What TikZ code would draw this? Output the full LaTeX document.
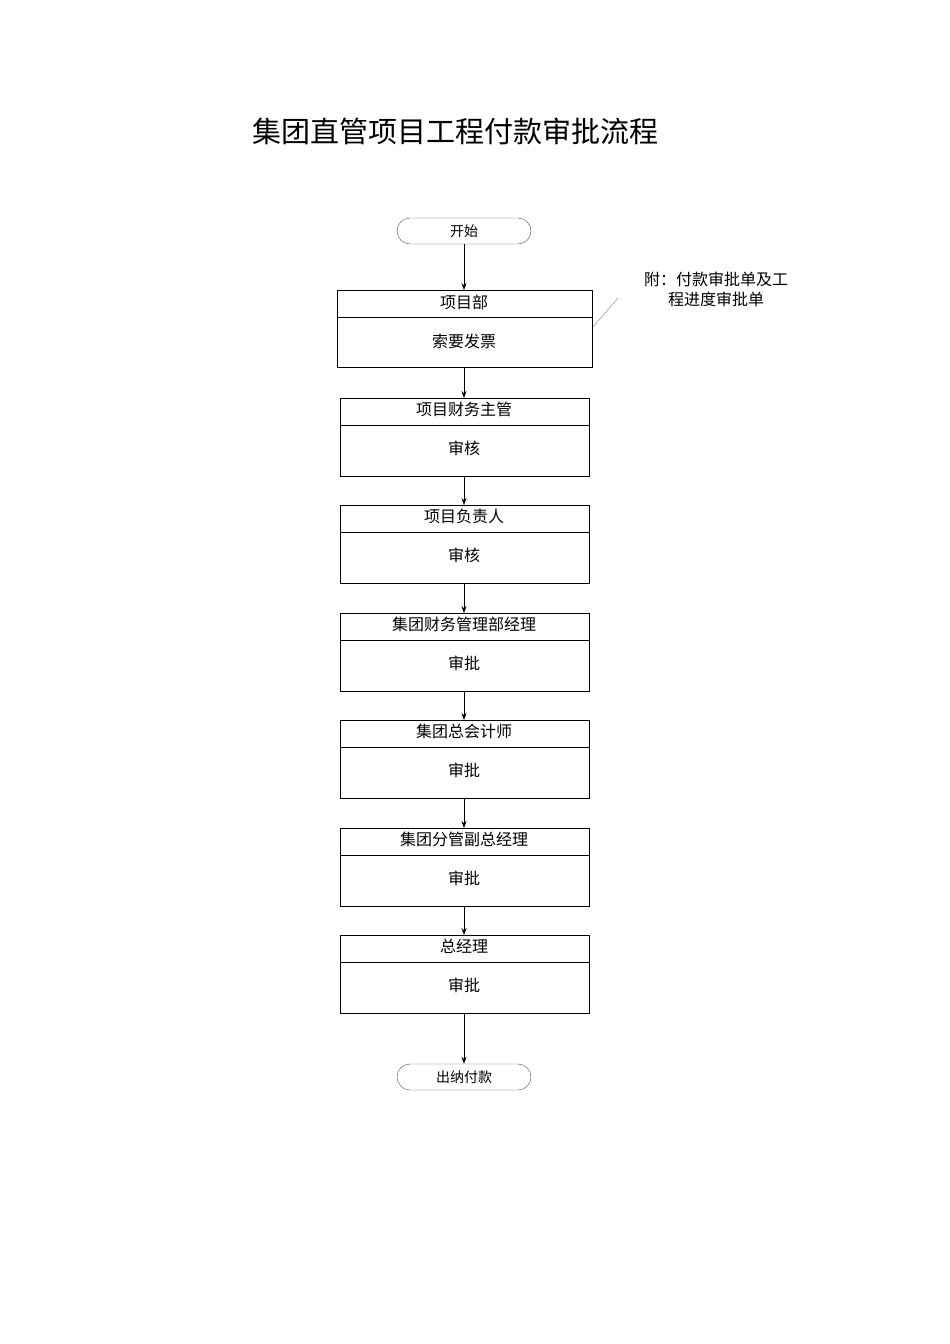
\documentclass[tikz,border=0pt]{standalone}
\usepackage{fontspec}
\setmainfont{Noto Sans CJK SC}
\usetikzlibrary{arrows.meta}
\begin{document}
\begin{tikzpicture}[x=1pt,y=-1pt,
  term/.style={draw=black!70,rounded corners=13pt,minimum width=134pt,minimum height=26pt,font=\fontsize{14}{16}\selectfont,inner sep=0},
  arr/.style={-{Stealth[length=7pt,width=5pt]},thick}]
\useasboundingbox (0,0) rectangle (950,1344);
\node[font=\fontsize{29}{32}\selectfont] (title) at (455,131) {集团直管项目工程付款审批流程};
\node[term] (start) at (464,231) {开始};
\node[term] (end) at (464,1077) {出纳付款};
\draw[semithick] (337,290) rectangle (592,367);
\draw[semithick] (337,317) -- (592,317);
\node[font=\fontsize{16}{18}\selectfont] (h0) at (464,302) {项目部};
\node[font=\fontsize{16}{18}\selectfont] (b0) at (464,341) {索要发票};
\coordinate (t0) at (464,290);
\coordinate (u0) at (464,367);
\foreach \i/\y/\h/\b in {1/398/项目财务主管/审核,2/505/项目负责人/审核,3/613/集团财务管理部经理/审批,4/720/集团总会计师/审批,5/828/集团分管副总经理/审批,6/935/总经理/审批}{
  \draw[semithick] (340,\y) rectangle (589,\y+78);
  \draw[semithick] (340,\y+27) -- (589,\y+27);
  \node[font=\fontsize{16}{18}\selectfont] (h\i) at (464,\y+11) {\h};
  \node[font=\fontsize{16}{18}\selectfont] (b\i) at (464,\y+50) {\b};
  \coordinate (t\i) at (464,\y);
  \coordinate (u\i) at (464,\y+78);
}
\draw[arr] (start.south) -- (t0);
\draw[arr] (u0) -- (t1);
\draw[arr] (u1) -- (t2);
\draw[arr] (u2) -- (t3);
\draw[arr] (u3) -- (t4);
\draw[arr] (u4) -- (t5);
\draw[arr] (u5) -- (t6);
\draw[arr] (u6) -- (end.north);
\node[font=\fontsize{16}{20}\selectfont,align=center] (note) at (716,289) {附：付款审批单及工\\程进度审批单};
\coordinate (n1) at (593,327);
\coordinate (n2) at (618,298);
\draw[black!50] (n1) -- (n2);
\end{tikzpicture}
\end{document}
